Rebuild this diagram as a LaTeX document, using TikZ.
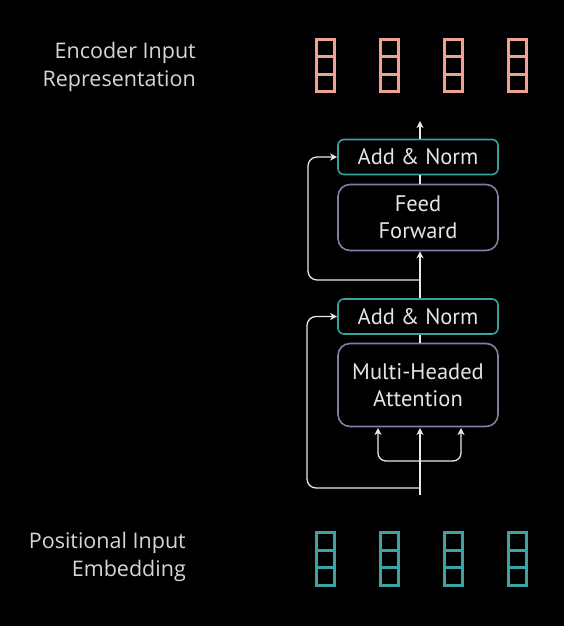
\documentclass[tikz,border=0pt]{standalone}
\usepackage{fontspec}
\setmainfont{Open Sans}
\newfontfamily\boxfont{PT Sans}
\usetikzlibrary{arrows.meta}
\definecolor{pinkv}{HTML}{F0A28E}
\definecolor{tealv}{HTML}{3DA3A3}
\definecolor{anborder}{HTML}{35A3A0}
\definecolor{blkborder}{HTML}{7880AA}
\definecolor{txt}{HTML}{E4E4E4}
\definecolor{lbltxt}{HTML}{D6D6D6}
\definecolor{linec}{HTML}{E8E8E8}
\tikzset{
  anbox/.style={draw=anborder, line width=1.6pt, rounded corners=6pt, minimum width=160pt, minimum height=35pt, inner sep=0pt, text=txt, font=\boxfont\fontsize{22.5}{27.5}\selectfont},
  blkbox/.style={draw=blkborder, line width=1.6pt, rounded corners=12pt, minimum width=160pt, inner sep=0pt, text=txt, align=center, font=\boxfont\fontsize{22.5}{27.5}\selectfont},
  conn/.style={draw=linec, line width=1.3pt},
  arr/.style={conn, -{Stealth[length=7pt,width=7pt,inset=2pt]}},
  lbl/.style={text=lbltxt, align=right, anchor=east, inner sep=0pt, font=\fontsize{21.5}{28}\selectfont},
  vec/.style={line width=2.8pt}
}
\begin{document}
\begin{tikzpicture}[x=1pt,y=-1pt]
\fill[black] (0,0) rectangle (564,626);
\useasboundingbox (0,0) rectangle (564,626);

% labels
\node[lbl] (encl) at (196,66.5) {Encoder Input\\Representation};
\node[lbl] (posl) at (186,557) {Positional Input\\Embedding};

% vectors
\foreach \x in {316.5,380.5,444.5,508.5}{
  \draw[vec, pinkv] (\x,39.5) rectangle ++(18,52);
  \draw[vec, pinkv] (\x,56.8) -- ++(18,0) (\x,74.2) -- ++(18,0);
  \draw[vec, tealv] (\x,532.5) rectangle ++(18,53);
  \draw[vec, tealv] (\x,550.2) -- ++(18,0) (\x,567.8) -- ++(18,0);
}

% boxes
\node[anbox] (an2) at (418,157) {Add \& Norm};
\node[blkbox, minimum height=66pt] (ff) at (418,217.5) {Feed\\Forward};
\node[anbox] (an1) at (418,316.5) {Add \& Norm};
\node[blkbox, minimum height=83pt] (mha) at (418,385) {Multi-Headed\\Attention};

% coordinates
\coordinate (top) at (420,121);
\coordinate (in) at (420,495);
\coordinate (sk1) at (420,488);
\coordinate (sk2) at (420,280);
\coordinate (br) at (420,461);
\coordinate (q) at (378,428);
\coordinate (k) at (420,428);
\coordinate (v) at (461,428);

% connectors
\draw[arr] (an2.north -| top) -- (top);
\draw[conn] (ff.north -| top) -- (an2.south -| top);
\draw[arr] (an1.north -| top) -- (ff.south -| top);
\draw[conn] (mha.north -| top) -- (an1.south -| top);
\draw[arr] (in) -- (k);
\draw[arr, rounded corners=8pt] (br) -| (q);
\draw[arr, rounded corners=8pt] (br) -| (v);
\draw[arr, rounded corners=9pt] (sk1) -- (307,488) -- (307,316.5) -- (an1.west);
\draw[arr, rounded corners=9pt] (sk2) -- (308,280) -- (308,157) -- (an2.west);
\end{tikzpicture}
\end{document}
